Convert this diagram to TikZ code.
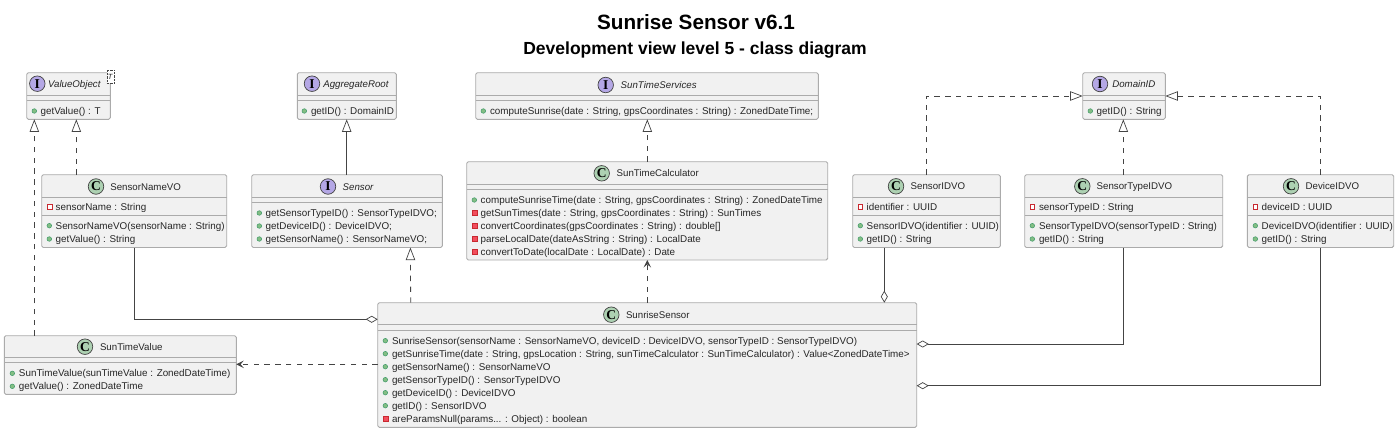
\documentclass[tikz,border=0pt]{standalone}
\usepackage{fontspec}
\setmainfont{Liberation Sans}
\newfontfamily\glyphfont{Liberation Serif}
\usetikzlibrary{arrows.meta}
\definecolor{boxfill}{HTML}{F1F1F1}
\definecolor{boxline}{HTML}{ABABAB}
\definecolor{conn}{HTML}{444444}
\definecolor{classcirc}{HTML}{ADD1B2}
\definecolor{ifacecirc}{HTML}{B4A7E5}
\definecolor{pubfill}{HTML}{84BE84}
\definecolor{publine}{HTML}{3F9A6A}
\definecolor{privline}{HTML}{C82930}
\definecolor{privfill}{HTML}{F24D5C}
\newcount\autonum
\tikzset{
  umlbox/.style={draw=boxline,fill=boxfill,line width=0.9pt,rounded corners=1.6pt,inner sep=0pt,outer sep=0pt},
  divider/.style={draw=boxline,line width=0.9pt},
  rowtext/.style={anchor=base west,inner sep=0pt,outer sep=0pt,font=\fontsize{9.85}{12}\selectfont,text=black!85},
  headtext/.style={rowtext,font=\fontsize{9.7}{12}\selectfont},
  ifacetext/.style={rowtext,font=\fontsize{9.7}{12}\selectfont\itshape},
  badge/.style={circle,draw=conn,line width=0.7pt,minimum size=15.5pt,inner sep=0pt,outer sep=0pt,font=\glyphfont\bfseries\fontsize{13.5}{14}\selectfont},
  pubmark/.style={circle,draw=publine,fill=pubfill,line width=0.5pt,minimum size=4.6pt,inner sep=0pt},
  privfield/.style={rectangle,draw=privline,fill=white,line width=0.7pt,minimum size=4.6pt,inner sep=0pt},
  privmethod/.style={rectangle,draw=privline,fill=privfill,line width=0.4pt,minimum size=4.8pt,inner sep=0pt},
  solidlink/.style={draw=conn,line width=0.9pt},
  dashlink/.style={draw=conn,line width=0.8pt,dash pattern=on 5.4pt off 5.4pt},
  realize/.style={-{Triangle[open,fill=white,length=12.6pt,width=9.4pt,line width=0.7pt]}},
  aggreg/.style={-{Diamond[open,fill=white,length=12pt,width=7pt,line width=0.7pt]}},
  depend/.style={-{Stealth[length=7.5pt,width=7.5pt,inset=3.2pt,fill=conn]}},
}
% name, x1, y1, x2, y2
\newcommand{\umlnode}[5]{%
  \node[umlbox,minimum width={(#4-#2)*1pt},minimum height={(#5-#3)*1pt}] (#1) at ({(#2+#4)/2},{(#3+#5)/2}) {};}
\newcommand{\divline}[3]{\draw[divider] (#1,#3) -- (#2,#3);}
\newcommand{\nextname}{\global\advance\autonum by 1 }
\newcommand{\classhead}[4]{% cx cy textx name
  \nextname\node[badge,fill=classcirc] (b\the\autonum) at (#1,#2) {C};
  \node[headtext] (h\the\autonum) at (#3,#2+3.5) {#4};}
\newcommand{\ifacehead}[4]{%
  \nextname\node[badge,fill=ifacecirc] (b\the\autonum) at (#1,#2) {I};
  \node[ifacetext] (h\the\autonum) at (#3,#2+3.5) {#4};}
% mark-style markx textx y text
\newcommand{\umlrow}[5]{%
  \nextname\node[#1] (m\the\autonum) at (#2,#4) {};
  \node[rowtext] (r\the\autonum) at (#3,#4+3.5) {#5};}
\begin{document}
\begin{tikzpicture}[x=1pt,y=-1pt]
\useasboundingbox (0,0) rectangle (1397,431);
\fill[white] (0,0) rectangle (1397,431);

\node[anchor=base,inner sep=0pt,font=\fontsize{20.7}{24}\selectfont\bfseries] (title) at (696,29.5) {Sunrise Sensor v6.1};
\node[anchor=base,inner sep=0pt,font=\fontsize{17.5}{20}\selectfont\bfseries] (subtitle) at (695,54) {Development view level 5 - class diagram};

% ValueObject
\umlnode{valueobject}{26.7}{72.7}{110.3}{119.3}
\divline{26.7}{110.3}{95.5}\divline{26.7}{110.3}{100.2}
\ifacehead{37.3}{83.7}{48}{ValueObject}
\umlrow{pubmark}{34.3}{40.7}{111}{getValue() : T}
\node[draw=conn,densely dotted,line width=0.4pt,fill=white,minimum width=7pt,minimum height=13pt,inner sep=0pt,text=black!85,font=\fontsize{7.5}{9}\selectfont\itshape] (generic) at (110.2,76.8) {T};

% AggregateRoot
\umlnode{aggroot}{297.3}{72.7}{396.3}{119.3}
\divline{297.3}{396.3}{95.5}\divline{297.3}{396.3}{100.2}
\ifacehead{312}{83.7}{323.3}{AggregateRoot}
\umlrow{pubmark}{304.3}{311}{111}{getID() : DomainID}

% SunTimeServices
\umlnode{services}{475.7}{72.7}{818.3}{119.3}
\divline{475.7}{818.3}{95.5}\divline{475.7}{818.3}{100.2}
\ifacehead{605.7}{85}{620.7}{SunTimeServices}
\umlrow{pubmark}{483.3}{490}{111}{computeSunrise(date : String, gpsCoordinates : String) : ZonedDateTime;}

% DomainID
\umlnode{domainid}{1082.7}{72.7}{1165.3}{119.3}
\divline{1082.7}{1165.3}{95.5}\divline{1082.7}{1165.3}{100.2}
\ifacehead{1100}{84}{1112.3}{DomainID}
\umlrow{pubmark}{1090.3}{1096.7}{111}{getID() : String}

% SensorNameVO
\umlnode{namevo}{41.7}{174.7}{226.7}{247.5}
\divline{41.7}{226.7}{197.3}\divline{41.7}{226.7}{215.5}
\classhead{96}{186.5}{110.3}{SensorNameVO}
\umlrow{privfield}{49.7}{55.7}{207}{sensorName : String}
\umlrow{pubmark}{49.3}{55.7}{225.7}{SensorNameVO(sensorName : String)}
\umlrow{pubmark}{49.3}{55.7}{239}{getValue() : String}

% Sensor
\umlnode{sensor}{251.7}{174.7}{442.3}{247.5}
\divline{251.7}{442.3}{197.3}\divline{251.7}{442.3}{202.3}
\ifacehead{328}{186.5}{342.7}{Sensor}
\umlrow{pubmark}{259.3}{265.7}{213}{getSensorTypeID() : SensorTypeIDVO;}
\umlrow{pubmark}{259.3}{265.7}{226}{getDeviceID() : DeviceIDVO;}
\umlrow{pubmark}{259.3}{265.7}{239}{getSensorName() : SensorNameVO;}

% SunTimeCalculator
\umlnode{calculator}{466.7}{161.7}{827.7}{260}
\divline{466.7}{827.7}{184}\divline{466.7}{827.7}{189.3}
\classhead{601.7}{173.3}{616.7}{SunTimeCalculator}
\umlrow{pubmark}{474.3}{480.7}{200}{computeSunriseTime(date : String, gpsCoordinates : String) : ZonedDateTime}
\umlrow{privmethod}{474.3}{480.7}{213}{getSunTimes(date : String, gpsCoordinates : String) : SunTimes}
\umlrow{privmethod}{474.3}{480.7}{226}{convertCoordinates(gpsCoordinates : String) : double[]}
\umlrow{privmethod}{474.3}{480.7}{239}{parseLocalDate(dateAsString : String) : LocalDate}
\umlrow{privmethod}{474.3}{480.7}{252}{convertToDate(localDate : LocalDate) : Date}

% SensorIDVO
\umlnode{sensorid}{852.7}{174.7}{1000.3}{247.5}
\divline{852.7}{1000.3}{197.3}\divline{852.7}{1000.3}{215.5}
\classhead{896}{186.3}{910.7}{SensorIDVO}
\umlrow{privfield}{860.3}{866.7}{207}{identifier : UUID}
\umlrow{pubmark}{860.3}{866.7}{225.7}{SensorIDVO(identifier : UUID)}
\umlrow{pubmark}{860.3}{866.7}{239}{getID() : String}

% SensorTypeIDVO
\umlnode{typeid}{1024.7}{174.7}{1222.7}{247.5}
\divline{1024.7}{1222.7}{197.3}\divline{1024.7}{1222.7}{215.5}
\classhead{1082.3}{186.3}{1096.7}{SensorTypeIDVO}
\umlrow{privfield}{1032.3}{1039}{207}{sensorTypeID : String}
\umlrow{pubmark}{1032.3}{1039}{225.7}{SensorTypeIDVO(sensorTypeID : String)}
\umlrow{pubmark}{1032.3}{1039}{239}{getID() : String}

% DeviceIDVO
\umlnode{deviceid}{1247.3}{174.7}{1393.7}{247.5}
\divline{1247.3}{1393.7}{197.3}\divline{1247.3}{1393.7}{215.5}
\classhead{1291}{186.3}{1305.7}{DeviceIDVO}
\umlrow{privfield}{1255.3}{1261.7}{207}{deviceID : UUID}
\umlrow{pubmark}{1255.3}{1261.7}{225.7}{DeviceIDVO(identifier : UUID)}
\umlrow{pubmark}{1255.3}{1261.7}{239}{getID() : String}

% SunTimeValue
\umlnode{timevalue}{4.3}{335.7}{236.3}{394.3}
\divline{4.3}{236.3}{357.3}\divline{4.3}{236.3}{362}
\classhead{85}{346.7}{100}{SunTimeValue}
\umlrow{pubmark}{12.3}{19}{373.3}{SunTimeValue(sunTimeValue : ZonedDateTime)}
\umlrow{pubmark}{12.3}{19}{386.3}{getValue() : ZonedDateTime}

% SunriseSensor
\umlnode{sunrise}{377.7}{302.7}{916.7}{427.3}
\divline{377.7}{916.7}{324.3}\divline{377.7}{916.7}{330.3}
\classhead{611.3}{314.7}{626}{SunriseSensor}
\umlrow{pubmark}{385.3}{392}{340.7}{SunriseSensor(sensorName : SensorNameVO, deviceID : DeviceIDVO, sensorTypeID : SensorTypeIDVO)}
\umlrow{pubmark}{385.3}{392}{353.7}{getSunriseTime(date : String, gpsLocation : String, sunTimeCalculator : SunTimeCalculator) : Value<ZonedDateTime>}
\umlrow{pubmark}{385.3}{392}{366.7}{getSensorName() : SensorNameVO}
\umlrow{pubmark}{385.3}{392}{379.7}{getSensorTypeID() : SensorTypeIDVO}
\umlrow{pubmark}{385.3}{392}{392.7}{getDeviceID() : DeviceIDVO}
\umlrow{pubmark}{385.3}{392}{405.7}{getID() : SensorIDVO}
\umlrow{privmethod}{385.3}{392}{418.7}{areParamsNull(params... : Object) : boolean}

% connectors
\draw[dashlink,realize] ([xshift=30pt]timevalue.north west) -- ([xshift=7.6pt]valueobject.south west);
\draw[dashlink,realize] ([xshift=34.6pt]namevo.north west) -- ([xshift=49.6pt]valueobject.south west);
\draw[solidlink,realize] ([xshift=95pt]sensor.north west) -- ([xshift=49.4pt]aggroot.south west);
\draw[dashlink,realize] ([xshift=33pt]sunrise.north west) -- ([xshift=158.7pt]sensor.south west);
\draw[dashlink,realize] ([xshift=180.6pt]calculator.north west) -- ([xshift=171.6pt]services.south west);
\draw[dashlink,depend] ([xshift=269.6pt]sunrise.north west) -- ([xshift=180.6pt]calculator.south west);
\draw[dashlink,depend] ([yshift=0.7pt]sunrise.west) -- ([yshift=0.7pt]timevalue.east);
\draw[dashlink,realize] ([xshift=74pt]sensorid.north west) |- (domainid.west);
\draw[dashlink,realize] ([xshift=73pt]deviceid.north west) |- (domainid.east);
\draw[dashlink,realize] ([xshift=98.6pt]typeid.north west) -- ([xshift=40.6pt]domainid.south west);
\draw[solidlink,aggreg] ([xshift=92.6pt]namevo.south west) |- ([yshift=45.7pt]sunrise.west);
\draw[solidlink,aggreg] ([xshift=31.6pt]sensorid.south west) -- ([xshift=506.6pt]sunrise.north west);
\draw[solidlink,aggreg] ([xshift=98.6pt]typeid.south west) |- ([yshift=21pt]sunrise.east);
\draw[solidlink,aggreg] ([xshift=73pt]deviceid.south west) |- ([yshift=-20.7pt]sunrise.east);
\end{tikzpicture}
\end{document}
